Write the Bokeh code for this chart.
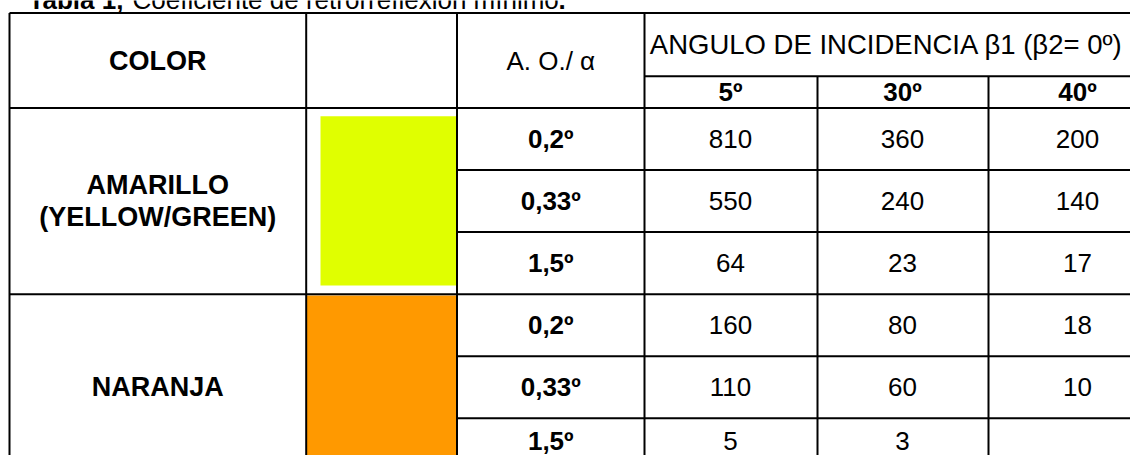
from bokeh.plotting import figure
from bokeh.models import Range1d
from bokeh.core.properties import value
from bokeh.embed import file_html
from bokeh.resources import INLINE

# ---- data ----
title_bold = "Tabla 1,"
title_rest = "Coeficiente de retrorreflexión mínimo"
title_end = "."
header_color = "COLOR"
header_ao = "A. O./ \u03b1"
header_angle = "ANGULO DE INCIDENCIA \u03b21 (\u03b22= 0\u00ba)"
incidence = ["5\u00ba", "30\u00ba", "40\u00ba"]
observation = ["0,2\u00ba", "0,33\u00ba", "1,5\u00ba"]
groups = [["AMARILLO", "(YELLOW/GREEN)"], ["NARANJA"]]
swatch_colors = ["#E0FF00", "#FF9900"]
amarillo = [[810, 360, 200], [550, 240, 140], [64, 23, 17]]
naranja = [[160, 80, 18], [110, 60, 10], [5, 3, None]]
values = [amarillo, naranja]

# ---- layout (pixel grid of the table) ----
W, H = 1130, 455
col_x = [9, 305.7, 456.5, 644, 817, 988, 1162]
head_top, head_mid, head_bot = 12.5, 75.7, 107.5
row_h = [62.05, 62.05, 62.07]
FONT = value("Liberation Sans")
FS = "26px"

p = figure(width=W, height=H, x_range=Range1d(0, W), y_range=Range1d(H, 0),
           output_backend="svg", toolbar_location=None, min_border=0,
           x_axis_location=None, y_axis_location=None)
p.grid.visible = False
p.outline_line_color = None
p.background_fill_color = "white"
p.border_fill_color = "white"

# row edges
row_edges = [head_bot]
for g in range(len(groups)):
    for h in row_h:
        row_edges.append(row_edges[-1] + h)
group_edges = [row_edges[0], row_edges[3], row_edges[6]]
bottom = 480

# swatches
p.quad(left=[320, col_x[1]], right=[col_x[2], col_x[2]],
       top=[115.7, group_edges[1] + 1.3], bottom=[285, bottom],
       fill_color=swatch_colors, line_color=None)

# lines
x0s, y0s, x1s, y1s = [], [], [], []
def seg(a, b, c, d):
    x0s.append(a); y0s.append(b); x1s.append(c); y1s.append(d)

seg(col_x[0], head_top, col_x[-1], head_top)
seg(col_x[3], head_mid, col_x[-1], head_mid)
seg(col_x[0], head_bot, col_x[-1], head_bot)
for i, y in enumerate(row_edges[1:]):
    if i % 3 == 2:
        seg(col_x[0], y, col_x[-1], y)
    else:
        seg(col_x[2], y, col_x[-1], y)
for i, x in enumerate(col_x):
    top = head_mid if i in (4, 5) else head_top
    seg(x, top, x, bottom)
p.segment(x0=x0s, y0=y0s, x1=x1s, y1=y1s, line_color="black", line_width=2)

def txt(x, y, s, bold=False, align="center", baseline="middle", size=FS):
    p.text(x=[x], y=[y], text=[s], text_font=FONT, text_font_size=size,
           text_font_style="bold" if bold else "normal", text_align=align,
           text_baseline=baseline, text_color="black")

# title (cut by the top edge, as in the original)
tx, ty = 28, -1
txt(tx, ty, title_bold, bold=True, align="left", baseline="alphabetic")
txt(tx + 104, ty, title_rest, align="left", baseline="alphabetic")
txt(tx + 104 + 426, ty, title_end, bold=True, align="left", baseline="alphabetic")

# header
hc = (head_top + head_bot) / 2
txt((col_x[0] + col_x[1]) / 2, hc, header_color, bold=True, size="27px")
txt((col_x[2] + col_x[3]) / 2, hc, header_ao)
txt(886, (head_top + head_mid) / 2, header_angle, size="27.5px")
col_centers = [730, 902, 1077]
for c, s in zip(col_centers, incidence):
    txt(c, (head_mid + head_bot) / 2, s, bold=True)

# body
for g, grp in enumerate(groups):
    gc = (group_edges[g] + group_edges[g + 1]) / 2
    n = len(grp)
    for k, line in enumerate(grp):
        txt((col_x[0] + col_x[1]) / 2, gc + (k - (n - 1) / 2) * 32, line, bold=True, size="27px")
    for r in range(3):
        yc = (row_edges[g * 3 + r] + row_edges[g * 3 + r + 1]) / 2
        yc = min(yc, H - 15)
        txt((col_x[2] + col_x[3]) / 2, yc, observation[r], bold=True)
        for c in range(3):
            v = values[g][r][c]
            if v is not None:
                txt(col_centers[c], yc, str(v))

open("out.html", "w").write(file_html(p, INLINE))
